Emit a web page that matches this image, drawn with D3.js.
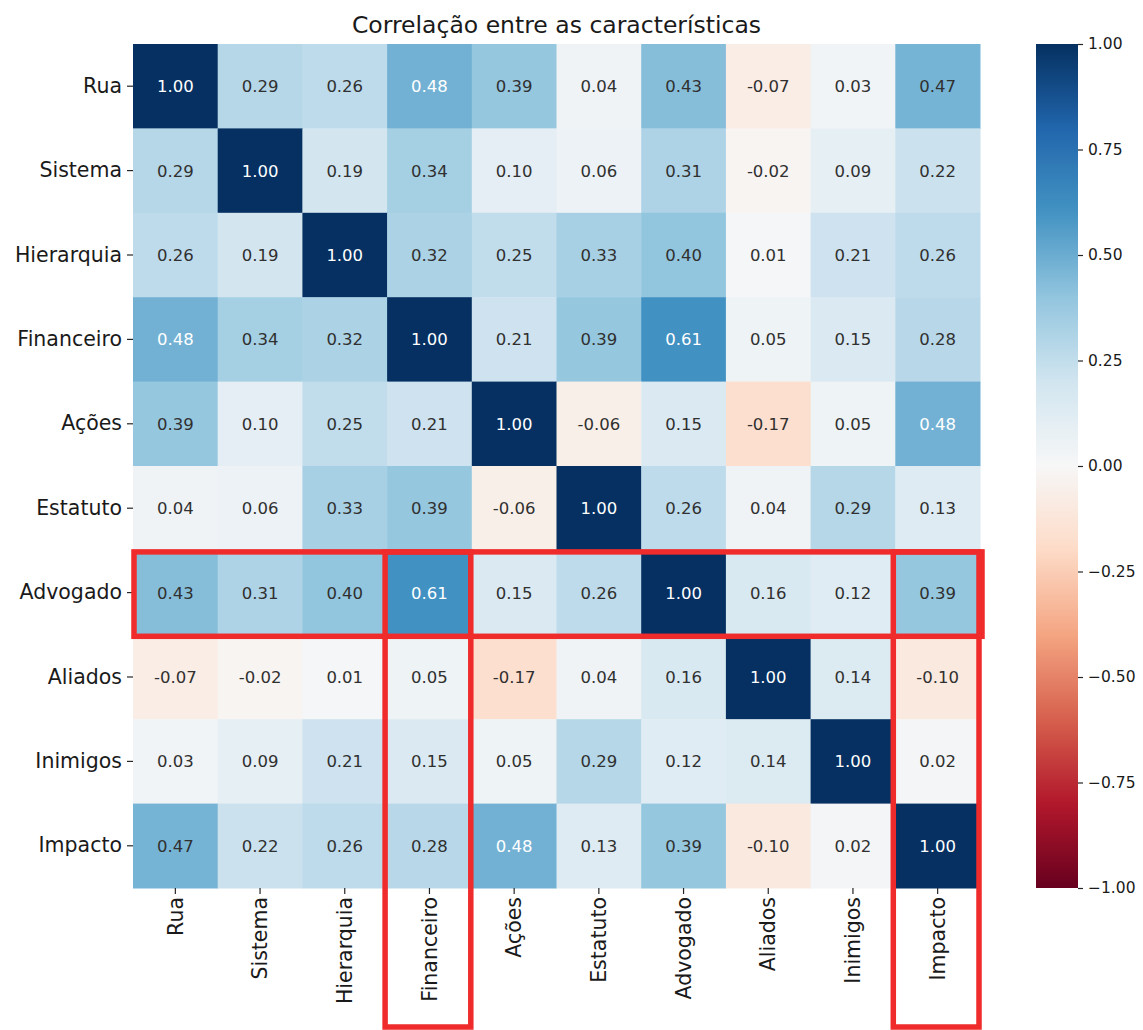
<!DOCTYPE html>
<html>
<head>
<meta charset="utf-8">
<script src="https://cdn.jsdelivr.net/npm/d3@7"></script>
<style>
html,body{margin:0;padding:0;background:#fff;}
svg{display:block;font-family:"DejaVu Sans",sans-serif;}
</style>
</head>
<body>
<svg id="chart" width="1143" height="1030"></svg>
<script>
const labels = ["Rua","Sistema","Hierarquia","Financeiro","Ações","Estatuto","Advogado","Aliados","Inimigos","Impacto"];
const rowRua        = [1.00, 0.29, 0.26, 0.48, 0.39, 0.04, 0.43, -0.07, 0.03, 0.47];
const rowSistema    = [0.29, 1.00, 0.19, 0.34, 0.10, 0.06, 0.31, -0.02, 0.09, 0.22];
const rowHierarquia = [0.26, 0.19, 1.00, 0.32, 0.25, 0.33, 0.40, 0.01, 0.21, 0.26];
const rowFinanceiro = [0.48, 0.34, 0.32, 1.00, 0.21, 0.39, 0.61, 0.05, 0.15, 0.28];
const rowAcoes      = [0.39, 0.10, 0.25, 0.21, 1.00, -0.06, 0.15, -0.17, 0.05, 0.48];
const rowEstatuto   = [0.04, 0.06, 0.33, 0.39, -0.06, 1.00, 0.26, 0.04, 0.29, 0.13];
const rowAdvogado   = [0.43, 0.31, 0.40, 0.61, 0.15, 0.26, 1.00, 0.16, 0.12, 0.39];
const rowAliados    = [-0.07, -0.02, 0.01, 0.05, -0.17, 0.04, 0.16, 1.00, 0.14, -0.10];
const rowInimigos   = [0.03, 0.09, 0.21, 0.15, 0.05, 0.29, 0.12, 0.14, 1.00, 0.02];
const rowImpacto    = [0.47, 0.22, 0.26, 0.28, 0.48, 0.13, 0.39, -0.10, 0.02, 1.00];
const matrix = [rowRua,rowSistema,rowHierarquia,rowFinanceiro,rowAcoes,rowEstatuto,rowAdvogado,rowAliados,rowInimigos,rowImpacto];
const colorbarTicks = [1.00, 0.75, 0.50, 0.25, 0.00, -0.25, -0.50, -0.75, -1.00];
const titleText = "Correlação entre as características";
// highlighted (annotation) boxes
const highlightRow = "Advogado";
const highlightCols = ["Financeiro","Impacto"];

const rdbu = ['#67001f','#b2182b','#d6604d','#f4a582','#fddbc7','#f7f7f7','#d1e5f0','#92c5de','#4393c3','#2166ac','#053061'];
const color = d3.scaleLinear().domain(d3.range(11).map(i => -1 + i*0.2)).range(rdbu).interpolate(d3.interpolateRgb).clamp(true);

const svg = d3.select("#chart");
const L = 133, R = 980, T = 44, B = 888;
const x = d3.scaleBand().domain(labels).range([L, R]);
const y = d3.scaleBand().domain(labels).range([T, B]);

function lum(c){
  const r = d3.rgb(c);
  const f = v => { v/=255; return v <= 0.03928 ? v/12.92 : Math.pow((v+0.055)/1.055, 2.4); };
  return 0.2126*f(r.r)+0.7152*f(r.g)+0.0722*f(r.b);
}

const cells = [];
matrix.forEach((row,i) => row.forEach((v,j) => cells.push({r:labels[i], c:labels[j], v})));

svg.append("g").selectAll("rect").data(cells).join("rect")
  .attr("x", d => x(d.c)).attr("y", d => y(d.r))
  .attr("width", x.bandwidth()+0.5).attr("height", y.bandwidth()+0.5)
  .attr("fill", d => color(d.v));

svg.append("g").selectAll("text").data(cells).join("text")
  .attr("x", d => x(d.c) + x.bandwidth()/2)
  .attr("y", d => y(d.r) + y.bandwidth()/2)
  .attr("dy", "0.36em")
  .attr("text-anchor", "middle")
  .attr("font-size", "16.5px")
  .attr("fill", d => lum(color(d.v)) > 0.408 ? "#303030" : "#ffffff")
  .text(d => d.v.toFixed(2));

// Y axis
const yAxis = d3.axisLeft(y).tickSize(6).tickPadding(5);
const gy = svg.append("g").attr("transform", `translate(${L},0)`).call(yAxis);
gy.select(".domain").remove();
gy.selectAll(".tick line").attr("stroke","#262626").attr("stroke-width",1.2);
gy.selectAll(".tick text").attr("font-size","20.5px").attr("fill","#1a1a1a").attr("font-family","DejaVu Sans");

// X axis
const xAxis = d3.axisBottom(x).tickSize(6).tickPadding(5);
const gx = svg.append("g").attr("transform", `translate(0,${B})`).call(xAxis);
gx.select(".domain").remove();
gx.selectAll(".tick line").attr("stroke","#262626").attr("stroke-width",1.2);
gx.selectAll(".tick text").attr("font-size","20.5px").attr("fill","#1a1a1a").attr("font-family","DejaVu Sans")
  .attr("transform","rotate(-90)").attr("text-anchor","end")
  .attr("x", -9).attr("y", 0).attr("dy","0.35em");

// Title
svg.append("text").attr("x", (L+R)/2).attr("y", 33).attr("text-anchor","middle")
  .attr("font-size","23.5px").attr("fill","#1a1a1a").text(titleText);

// Colorbar
const cbX = 1036, cbW = 42;
const cbScale = d3.scaleLinear().domain([-1,1]).range([B, T]);
const defs = svg.append("defs");
const grad = defs.append("linearGradient").attr("id","cbgrad").attr("x1","0").attr("y1","1").attr("x2","0").attr("y2","0");
d3.range(0, 1.0001, 0.02).forEach(t => grad.append("stop").attr("offset", t).attr("stop-color", color(-1 + 2*t)));
svg.append("rect").attr("x", cbX).attr("y", T).attr("width", cbW).attr("height", B-T).attr("fill","url(#cbgrad)");
const cbAxis = d3.axisRight(cbScale).tickValues(colorbarTicks).tickSize(5).tickPadding(5)
  .tickFormat(d => { const s = Math.abs(d).toFixed(2); return d < 0 ? "\u2212" + s : s; });
const gc = svg.append("g").attr("transform", `translate(${cbX+cbW},0)`).call(cbAxis);
gc.select(".domain").remove();
gc.selectAll(".tick line").attr("stroke","#262626").attr("stroke-width",1.2);
gc.selectAll(".tick text").attr("font-size","15.5px").attr("fill","#1a1a1a").attr("font-family","DejaVu Sans");

// Red highlight boxes
const red = "#ef2b2b", sw = 5.5, boxBottom = 1027;
const hl = svg.append("g").attr("fill","none").attr("stroke", red).attr("stroke-width", sw);
hl.append("rect").attr("x", L+1).attr("y", y(highlightRow)+1.5)
  .attr("width", R + 2 - (L+1)).attr("height", y.bandwidth());
highlightCols.forEach(c => {
  hl.append("rect").attr("x", x(c) - 2).attr("y", y(highlightRow)+1.5)
    .attr("width", x.bandwidth()+1).attr("height", boxBottom - (y(highlightRow)+1.5));
});
</script>
</body>
</html>
